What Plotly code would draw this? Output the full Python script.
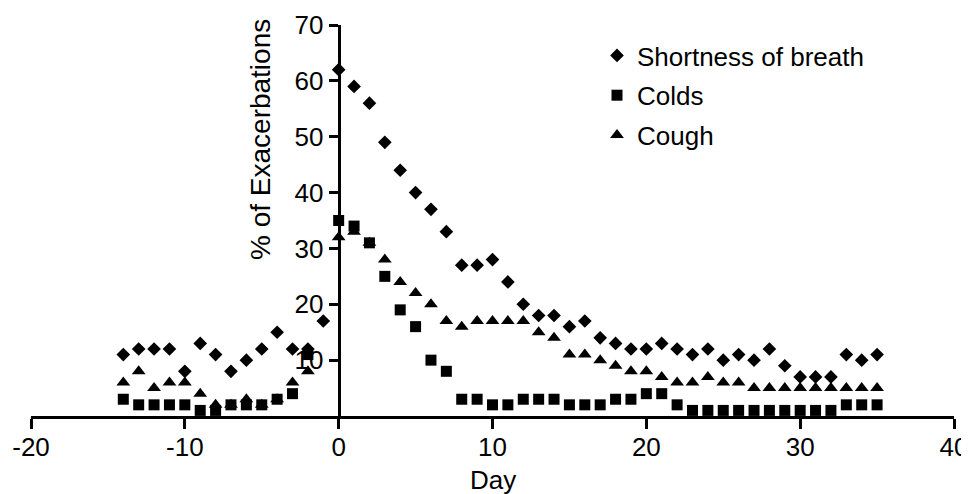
import plotly.graph_objects as go

days = list(range(-14, 36))

shortness_of_breath = [11, 12, 12, 12, 8, 13, 11, 8, 10, 12, 15, 12, 12, 17,
                       62, 59, 56, 49, 44, 40, 37, 33, 27, 27, 28, 24, 20, 18, 18, 16,
                       17, 14, 13, 12, 12, 13, 12, 11, 12, 10, 11, 10, 12, 9, 7, 7, 7,
                       11, 10, 11]

colds = [3, 2, 2, 2, 2, 1, 1, 2, 2, 2, 3, 4, 11, None,
         35, 34, 31, 25, 19, 16, 10, 8, 3, 3, 2, 2, 3, 3, 3, 2,
         2, 2, 3, 3, 4, 4, 2, 1, 1, 1, 1, 1, 1, 1, 1, 1, 1,
         2, 2, 2]

cough = [6, 8, 5, 6, 6, 4, 2, 2, 3, 2, 3, 6, 8, None,
         32, 33, 31, 28, 24, 22, 20, 17, 16, 17, 17, 17, 17, 15, 14, 11,
         11, 10, 9, 8, 8, 7, 6, 6, 7, 6, 6, 5, 5, 5, 5, 5, 5,
         5, 5, 5]

x_ticks = [-20, -10, 0, 10, 20, 30, 40]
x_tick_labels = ["-20", "-10", "0", "10", "20", "30", "40"]
y_ticks = [10, 20, 30, 40, 50, 60, 70]

FONT = "Liberation Sans, Arial, sans-serif"

fig = go.Figure()
fig.add_trace(go.Scatter(x=days, y=shortness_of_breath, mode="markers",
                         name="Shortness of breath",
                         marker=dict(symbol="diamond", size=10.5, color="black"),
                         legendgroup="a"))
fig.add_trace(go.Scatter(x=days, y=colds, mode="markers", name="Colds",
                         marker=dict(symbol="square", size=11, color="black"),
                         legendgroup="b"))
fig.add_trace(go.Scatter(x=days, y=cough, mode="markers", name="Cough",
                         marker=dict(symbol="triangle-up", size=12, color="black"),
                         legendgroup="c"))

# page body has an 8px margin; work in figure pixel coordinates
W, H = 961, 486
L, R, T, B = 23, 15, 17, 78
pw = W - L - R
ph = H - T - B


def px(xf):
    return (xf - L) / pw


def py(yf):
    return (H - B - yf) / ph


fig.update_layout(
    width=W, height=H,
    margin=dict(l=L, r=R, t=T, b=B, pad=0, autoexpand=False),
    paper_bgcolor="white", plot_bgcolor="white",
    font=dict(family=FONT, size=26, color="black"),
    xaxis=dict(range=[-20, 40], tickvals=x_ticks, ticktext=x_tick_labels,
               showline=True, linewidth=3,
               linecolor="black", ticks="outside", ticklen=10, tickwidth=3,
               tickcolor="black", showgrid=False, zeroline=False,
               automargin=False, tickfont=dict(size=26), ticklabelstandoff=-4),
    yaxis=dict(range=[0, 70], tickvals=y_ticks, showline=True, linewidth=3,
               linecolor="black", ticks="outside", ticklen=9, tickwidth=3,
               tickcolor="black", showgrid=False, zeroline=False,
               anchor="free", position=(0 - (-20)) / 60, automargin=False,
               tickfont=dict(size=26)),
    showlegend=True,
    legend=dict(x=px(589), y=py(24), xanchor="left", yanchor="top",
                font=dict(size=26), bgcolor="rgba(0,0,0,0)", tracegroupgap=3,
                itemsizing="trace"),
    annotations=[
        dict(text="% of Exacerbations", xref="paper", yref="paper",
             x=px(252), y=py(132), textangle=-90,
             showarrow=False, font=dict(size=28), xanchor="center", yanchor="middle"),
        dict(text="Day", xref="paper", yref="paper",
             x=0.5, y=py(472), showarrow=False,
             font=dict(size=26), xanchor="center", yanchor="middle"),
    ],
)

fig.write_html("out.html")
